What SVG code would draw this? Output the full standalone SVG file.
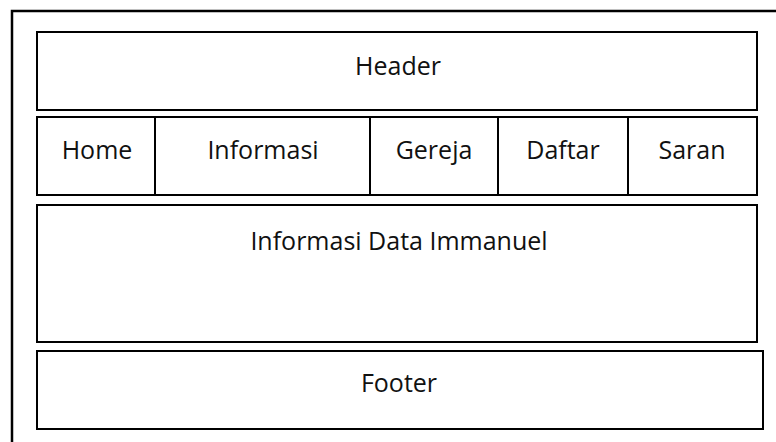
<svg xmlns="http://www.w3.org/2000/svg" width="776" height="442" viewBox="0 0 776 442">
<style>
.b{fill:#fff;stroke:#000;stroke-width:2}
.l{fill:none;stroke:#000;stroke-width:2.5}
.d{stroke:#000;stroke-width:2}
text{font-family:"Open Sans","Liberation Sans",sans-serif;font-size:25px;fill:#111;text-anchor:middle}
</style>
<rect width="776" height="442" fill="#fff"/>
<g id="frame"><path class="l" d="M12 442 V11 H776"/></g>
<g id="header"><rect class="b" x="37" y="32" width="720" height="78"/><text x="398" y="75">Header</text></g>
<g id="nav">
<rect class="b" x="37" y="117" width="720" height="78"/>
<line class="d" x1="155" y1="117" x2="155" y2="195"/>
<line class="d" x1="370" y1="117" x2="370" y2="195" stroke-width="2.5"/>
<line class="d" x1="498" y1="117" x2="498" y2="195"/>
<line class="d" x1="628" y1="117" x2="628" y2="195" stroke-width="2.5"/>
</g>
<g id="home"><text x="97" y="159">Home</text></g>
<g id="informasi"><text x="263" y="159">Informasi</text></g>
<g id="gereja"><text x="434" y="159">Gereja</text></g>
<g id="daftar"><text x="563" y="159">Daftar</text></g>
<g id="saran"><text x="692" y="159">Saran</text></g>
<g id="content"><rect class="b" x="37" y="205" width="720" height="137"/><text x="399" y="250">Informasi Data Immanuel</text></g>
<g id="footer"><rect class="b" x="37" y="351" width="726" height="78"/><text x="399" y="392">Footer</text></g>
<g id="connectors"/>
</svg>
